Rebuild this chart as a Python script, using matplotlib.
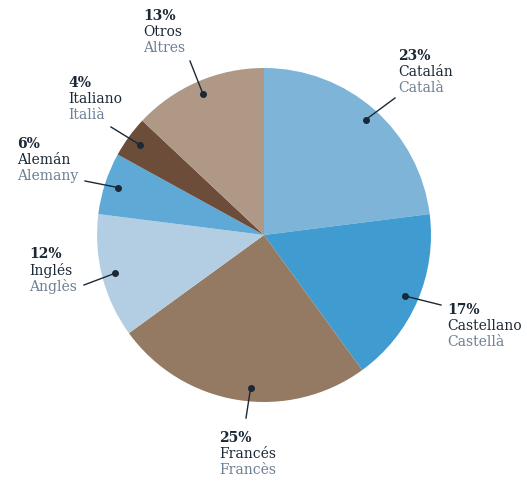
import matplotlib.pyplot as plt
import numpy as np

# Idiomas: porcentaje, nombre en castellano, nombre en catalán
shares = [23, 17, 25, 12, 6, 4, 13]
names_es = ["Catalán", "Castellano", "Francés", "Inglés", "Alemán", "Italiano", "Otros"]
names_ca = ["Català", "Castellà", "Francès", "Anglès", "Alemany", "Italià", "Altres"]
colors = ["#7db4d8", "#409bd0", "#957a63", "#b3cee3", "#5ea9d6", "#6c4d39", "#af9885"]

# label block (top-left, px), leader end point (px), dot angle nudge (deg)
label_xy = [(398, 49), (447, 303), (219, 431), (29, 247), (17, 137), (68, 76), (143, 9)]
leader_end = [(395, 98), (441, 305), (246, 418), (84, 285), (85, 181), (111, 127), (190, 61)]
dot_nudge = [0, 0, 4, 0, 0, 0, 0]

W, H = 527, 482
cx, cy, R = 264, 235, 167
dark = "#1b2836"
soft = "#6d7f93"

fig = plt.figure(figsize=(W / 100, H / 100), dpi=100)
ax = fig.add_axes([0, 0, 1, 1])

wedges, _ = ax.pie(shares, colors=colors, startangle=90, counterclock=False,
                   center=(cx, H - cy), radius=R,
                   wedgeprops=dict(linewidth=0))
ax.set_xlim(0, W)
ax.set_ylim(0, H)
ax.set_aspect("equal")
ax.axis("off")

font = "DejaVu Serif"
for w, pct, es, ca, (tx, ty), (lx, ly), nd in zip(wedges, shares, names_es, names_ca,
                                                  label_xy, leader_end, dot_nudge):
    mid = np.deg2rad((w.theta1 + w.theta2) / 2 + nd)
    dx = cx + 0.92 * R * np.cos(mid)
    dy = (H - cy) + 0.92 * R * np.sin(mid)
    ax.plot([dx, lx], [dy, H - ly], color=dark, lw=1.0)
    ax.plot(dx, dy, "o", color=dark, ms=4)
    ax.text(tx, H - ty, f"{pct}%", fontsize=10, fontweight="bold", color=dark,
            family=font, va="top", ha="left")
    ax.text(tx, H - ty - 16, es, fontsize=10, color=dark, family=font, va="top", ha="left")
    ax.text(tx, H - ty - 32, ca, fontsize=10, color=soft, family=font, va="top", ha="left")

fig.savefig("out.png", dpi=100)
